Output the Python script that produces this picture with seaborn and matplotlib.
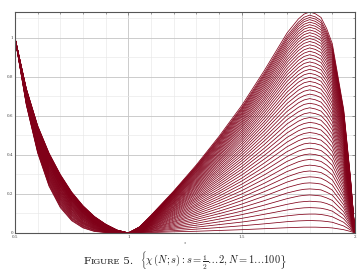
import numpy as np
import pandas as pd
import seaborn as sns
import matplotlib
matplotlib.use("Agg")
import matplotlib.pyplot as plt
from matplotlib.ticker import MultipleLocator

# s positions at which the traced curves were read
s_left = [0.55, 0.6, 0.65, 0.7, 0.75, 0.8, 0.85, 0.9, 0.95]
s_right = [1.05, 1.1, 1.2, 1.3, 1.4, 1.5, 1.6, 1.7, 1.75, 1.8, 1.85, 1.9,
           1.95, 1.98]
s_peak = [1.775, 1.825, 1.875]
# shared end values: chi = 1 at s = 1/2, chi = 0 at s = 1 and s = 2
s_fixed = [0.5, 1.0, 2.0]
chi_fixed = [1.0, 0.0, 0.0]

# traced curves (every second one of N = 1 ... 100)
curve_N = [1, 3, 5, 7, 9, 11, 13, 15, 17, 19, 21, 23, 25, 27, 29, 31, 33, 35,
           37, 39, 41, 43, 45, 47, 49, 51, 53, 55, 57, 59, 61, 63, 65, 67, 69,
           71, 73, 75, 77, 79, 81, 83, 85, 87, 89, 91, 93, 95, 97, 100]

chi_left = [  # s = 0.55 ... 0.95
    [0.656, 0.410, 0.240, 0.130, 0.063, 0.026, 0.008, 0.002, 0.000],
    [0.659, 0.414, 0.245, 0.135, 0.067, 0.029, 0.010, 0.003, 0.001],
    [0.661, 0.419, 0.250, 0.140, 0.072, 0.033, 0.013, 0.004, 0.001],
    [0.664, 0.423, 0.256, 0.146, 0.076, 0.036, 0.015, 0.006, 0.002],
    [0.666, 0.427, 0.260, 0.150, 0.080, 0.039, 0.017, 0.007, 0.002],
    [0.669, 0.431, 0.265, 0.155, 0.085, 0.043, 0.020, 0.008, 0.002],
    [0.671, 0.435, 0.270, 0.160, 0.089, 0.046, 0.022, 0.009, 0.003],
    [0.673, 0.439, 0.275, 0.165, 0.093, 0.049, 0.024, 0.011, 0.003],
    [0.676, 0.443, 0.280, 0.170, 0.097, 0.052, 0.026, 0.012, 0.004],
    [0.678, 0.447, 0.284, 0.174, 0.101, 0.055, 0.028, 0.013, 0.004],
    [0.680, 0.450, 0.289, 0.179, 0.105, 0.058, 0.030, 0.014, 0.004],
    [0.682, 0.454, 0.293, 0.183, 0.109, 0.062, 0.032, 0.015, 0.005],
    [0.684, 0.457, 0.298, 0.188, 0.112, 0.064, 0.034, 0.016, 0.005],
    [0.687, 0.461, 0.302, 0.192, 0.117, 0.068, 0.036, 0.018, 0.006],
    [0.689, 0.464, 0.306, 0.196, 0.120, 0.070, 0.038, 0.019, 0.006],
    [0.691, 0.468, 0.311, 0.201, 0.124, 0.073, 0.040, 0.020, 0.006],
    [0.693, 0.471, 0.314, 0.204, 0.127, 0.076, 0.042, 0.021, 0.007],
    [0.695, 0.475, 0.319, 0.209, 0.131, 0.079, 0.044, 0.022, 0.007],
    [0.697, 0.478, 0.322, 0.212, 0.134, 0.081, 0.045, 0.023, 0.007],
    [0.699, 0.481, 0.327, 0.217, 0.138, 0.084, 0.047, 0.024, 0.008],
    [0.701, 0.484, 0.330, 0.220, 0.141, 0.086, 0.049, 0.025, 0.008],
    [0.703, 0.488, 0.334, 0.224, 0.144, 0.089, 0.051, 0.026, 0.008],
    [0.704, 0.490, 0.337, 0.227, 0.147, 0.091, 0.052, 0.026, 0.009],
    [0.706, 0.494, 0.342, 0.232, 0.151, 0.094, 0.054, 0.028, 0.009],
    [0.708, 0.496, 0.345, 0.235, 0.153, 0.096, 0.055, 0.028, 0.009],
    [0.710, 0.499, 0.349, 0.239, 0.157, 0.099, 0.057, 0.029, 0.010],
    [0.711, 0.502, 0.351, 0.241, 0.159, 0.101, 0.058, 0.030, 0.010],
    [0.713, 0.505, 0.355, 0.245, 0.163, 0.103, 0.060, 0.031, 0.010],
    [0.714, 0.507, 0.358, 0.248, 0.165, 0.105, 0.061, 0.032, 0.010],
    [0.716, 0.510, 0.362, 0.252, 0.168, 0.107, 0.063, 0.033, 0.011],
    [0.717, 0.512, 0.364, 0.254, 0.170, 0.109, 0.064, 0.033, 0.011],
    [0.719, 0.515, 0.368, 0.258, 0.173, 0.112, 0.066, 0.034, 0.011],
    [0.720, 0.517, 0.370, 0.260, 0.175, 0.113, 0.067, 0.035, 0.012],
    [0.722, 0.520, 0.373, 0.263, 0.178, 0.115, 0.069, 0.036, 0.012],
    [0.723, 0.522, 0.375, 0.265, 0.180, 0.117, 0.069, 0.036, 0.012],
    [0.725, 0.524, 0.379, 0.269, 0.183, 0.119, 0.071, 0.037, 0.012],
    [0.726, 0.526, 0.381, 0.271, 0.185, 0.120, 0.072, 0.038, 0.012],
    [0.727, 0.529, 0.384, 0.274, 0.188, 0.123, 0.073, 0.038, 0.013],
    [0.728, 0.530, 0.386, 0.276, 0.189, 0.124, 0.074, 0.039, 0.013],
    [0.730, 0.533, 0.389, 0.279, 0.192, 0.126, 0.076, 0.040, 0.013],
    [0.730, 0.534, 0.390, 0.280, 0.193, 0.127, 0.076, 0.040, 0.013],
    [0.732, 0.537, 0.394, 0.284, 0.196, 0.129, 0.078, 0.041, 0.014],
    [0.733, 0.538, 0.395, 0.285, 0.197, 0.130, 0.078, 0.041, 0.014],
    [0.734, 0.540, 0.398, 0.288, 0.200, 0.132, 0.080, 0.042, 0.014],
    [0.735, 0.542, 0.400, 0.290, 0.201, 0.133, 0.080, 0.043, 0.014],
    [0.736, 0.543, 0.402, 0.292, 0.203, 0.135, 0.081, 0.043, 0.014],
    [0.737, 0.545, 0.404, 0.294, 0.205, 0.136, 0.082, 0.044, 0.014],
    [0.738, 0.547, 0.406, 0.296, 0.206, 0.137, 0.083, 0.044, 0.015],
    [0.739, 0.548, 0.408, 0.298, 0.208, 0.138, 0.084, 0.044, 0.015],
    [0.740, 0.550, 0.410, 0.300, 0.210, 0.140, 0.085, 0.045, 0.015],
]

chi_right = [  # s = 1.05 ... 1.98
    [0.001, 0.002, 0.006, 0.009, 0.013, 0.017, 0.022, 0.027, 0.029, 0.030, 0.029, 0.026, 0.017, 0.008],
    [0.002, 0.005, 0.012, 0.020, 0.028, 0.037, 0.047, 0.058, 0.062, 0.064, 0.062, 0.055, 0.036, 0.016],
    [0.003, 0.008, 0.019, 0.030, 0.043, 0.056, 0.072, 0.088, 0.094, 0.097, 0.095, 0.083, 0.055, 0.024],
    [0.004, 0.010, 0.025, 0.040, 0.057, 0.075, 0.096, 0.118, 0.126, 0.130, 0.127, 0.112, 0.073, 0.033],
    [0.005, 0.013, 0.031, 0.050, 0.071, 0.094, 0.120, 0.147, 0.158, 0.163, 0.159, 0.139, 0.091, 0.041],
    [0.005, 0.016, 0.037, 0.060, 0.085, 0.112, 0.143, 0.176, 0.189, 0.195, 0.190, 0.167, 0.109, 0.049],
    [0.006, 0.018, 0.043, 0.070, 0.099, 0.130, 0.166, 0.205, 0.219, 0.226, 0.221, 0.194, 0.127, 0.057],
    [0.007, 0.021, 0.049, 0.079, 0.112, 0.148, 0.189, 0.233, 0.249, 0.257, 0.251, 0.220, 0.144, 0.064],
    [0.008, 0.023, 0.055, 0.089, 0.126, 0.166, 0.212, 0.261, 0.279, 0.288, 0.281, 0.246, 0.161, 0.072],
    [0.009, 0.025, 0.060, 0.098, 0.139, 0.183, 0.234, 0.288, 0.308, 0.318, 0.310, 0.272, 0.178, 0.080],
    [0.010, 0.028, 0.066, 0.107, 0.152, 0.200, 0.255, 0.315, 0.336, 0.348, 0.339, 0.298, 0.195, 0.087],
    [0.011, 0.030, 0.072, 0.116, 0.165, 0.217, 0.277, 0.341, 0.365, 0.377, 0.367, 0.322, 0.211, 0.094],
    [0.011, 0.032, 0.077, 0.125, 0.177, 0.234, 0.298, 0.367, 0.392, 0.405, 0.395, 0.347, 0.227, 0.101],
    [0.012, 0.035, 0.082, 0.134, 0.189, 0.250, 0.319, 0.392, 0.420, 0.434, 0.423, 0.371, 0.243, 0.108],
    [0.013, 0.037, 0.088, 0.142, 0.202, 0.266, 0.339, 0.417, 0.446, 0.461, 0.450, 0.395, 0.258, 0.115],
    [0.014, 0.039, 0.093, 0.150, 0.213, 0.281, 0.359, 0.442, 0.473, 0.488, 0.476, 0.418, 0.274, 0.122],
    [0.014, 0.041, 0.098, 0.159, 0.225, 0.297, 0.379, 0.466, 0.499, 0.515, 0.502, 0.441, 0.288, 0.129],
    [0.015, 0.043, 0.103, 0.167, 0.237, 0.312, 0.398, 0.490, 0.524, 0.541, 0.528, 0.463, 0.303, 0.135],
    [0.016, 0.045, 0.108, 0.175, 0.248, 0.327, 0.417, 0.513, 0.549, 0.567, 0.553, 0.485, 0.318, 0.142],
    [0.017, 0.047, 0.113, 0.182, 0.259, 0.341, 0.435, 0.536, 0.573, 0.592, 0.578, 0.507, 0.332, 0.148],
    [0.017, 0.049, 0.117, 0.190, 0.270, 0.356, 0.454, 0.559, 0.597, 0.617, 0.602, 0.528, 0.346, 0.154],
    [0.018, 0.051, 0.122, 0.198, 0.280, 0.370, 0.472, 0.581, 0.621, 0.642, 0.625, 0.549, 0.359, 0.160],
    [0.019, 0.053, 0.126, 0.205, 0.291, 0.383, 0.489, 0.602, 0.644, 0.665, 0.649, 0.570, 0.373, 0.166],
    [0.019, 0.055, 0.131, 0.212, 0.301, 0.397, 0.506, 0.623, 0.667, 0.689, 0.671, 0.590, 0.386, 0.172],
    [0.020, 0.057, 0.135, 0.219, 0.311, 0.410, 0.523, 0.644, 0.689, 0.712, 0.694, 0.609, 0.398, 0.178],
    [0.021, 0.059, 0.139, 0.226, 0.321, 0.423, 0.539, 0.664, 0.711, 0.734, 0.716, 0.628, 0.411, 0.184],
    [0.021, 0.060, 0.144, 0.233, 0.330, 0.435, 0.556, 0.684, 0.732, 0.756, 0.737, 0.647, 0.423, 0.189],
    [0.022, 0.062, 0.148, 0.239, 0.340, 0.448, 0.571, 0.704, 0.753, 0.777, 0.758, 0.665, 0.435, 0.194],
    [0.022, 0.064, 0.152, 0.246, 0.349, 0.460, 0.587, 0.722, 0.773, 0.798, 0.778, 0.683, 0.447, 0.200],
    [0.023, 0.066, 0.156, 0.252, 0.358, 0.472, 0.602, 0.741, 0.793, 0.819, 0.798, 0.701, 0.459, 0.205],
    [0.023, 0.067, 0.159, 0.258, 0.367, 0.483, 0.617, 0.759, 0.812, 0.839, 0.818, 0.718, 0.470, 0.210],
    [0.024, 0.069, 0.163, 0.264, 0.375, 0.494, 0.631, 0.777, 0.831, 0.858, 0.837, 0.735, 0.481, 0.215],
    [0.025, 0.070, 0.167, 0.270, 0.383, 0.505, 0.645, 0.794, 0.849, 0.877, 0.855, 0.751, 0.491, 0.219],
    [0.025, 0.072, 0.170, 0.276, 0.392, 0.516, 0.658, 0.811, 0.867, 0.896, 0.874, 0.767, 0.502, 0.224],
    [0.026, 0.073, 0.174, 0.282, 0.399, 0.526, 0.672, 0.827, 0.885, 0.914, 0.891, 0.782, 0.512, 0.229],
    [0.026, 0.075, 0.177, 0.287, 0.407, 0.537, 0.685, 0.843, 0.902, 0.932, 0.908, 0.797, 0.522, 0.233],
    [0.027, 0.076, 0.180, 0.292, 0.415, 0.546, 0.697, 0.859, 0.918, 0.949, 0.925, 0.812, 0.531, 0.237],
    [0.027, 0.077, 0.183, 0.297, 0.422, 0.556, 0.710, 0.874, 0.935, 0.965, 0.941, 0.826, 0.541, 0.241],
    [0.027, 0.079, 0.186, 0.302, 0.429, 0.565, 0.721, 0.888, 0.950, 0.982, 0.957, 0.840, 0.550, 0.245],
    [0.028, 0.080, 0.189, 0.307, 0.436, 0.574, 0.733, 0.902, 0.965, 0.997, 0.972, 0.854, 0.558, 0.249],
    [0.028, 0.081, 0.192, 0.312, 0.442, 0.583, 0.744, 0.916, 0.980, 1.012, 0.987, 0.867, 0.567, 0.253],
    [0.029, 0.082, 0.195, 0.316, 0.449, 0.592, 0.755, 0.930, 0.994, 1.027, 1.001, 0.879, 0.575, 0.257],
    [0.029, 0.083, 0.198, 0.321, 0.455, 0.600, 0.765, 0.942, 1.008, 1.041, 1.015, 0.891, 0.583, 0.260],
    [0.030, 0.084, 0.200, 0.325, 0.461, 0.608, 0.775, 0.955, 1.021, 1.055, 1.029, 0.903, 0.591, 0.264],
    [0.030, 0.085, 0.203, 0.329, 0.467, 0.615, 0.785, 0.967, 1.034, 1.068, 1.042, 0.915, 0.598, 0.267],
    [0.030, 0.086, 0.205, 0.333, 0.472, 0.623, 0.795, 0.978, 1.047, 1.081, 1.054, 0.926, 0.605, 0.270],
    [0.031, 0.087, 0.208, 0.337, 0.478, 0.630, 0.804, 0.990, 1.059, 1.094, 1.066, 0.936, 0.612, 0.273],
    [0.031, 0.088, 0.210, 0.340, 0.483, 0.637, 0.812, 1.000, 1.070, 1.105, 1.078, 0.946, 0.619, 0.276],
    [0.031, 0.089, 0.212, 0.344, 0.488, 0.643, 0.821, 1.011, 1.081, 1.117, 1.089, 0.956, 0.625, 0.279],
    [0.032, 0.091, 0.215, 0.349, 0.495, 0.653, 0.833, 1.025, 1.097, 1.133, 1.105, 0.970, 0.634, 0.283],
]

chi_peak = [  # s = 1.775, 1.825, 1.875
    [0.030, 0.030, 0.028], [0.063, 0.063, 0.059], [0.096, 0.097, 0.090],
    [0.129, 0.129, 0.121], [0.161, 0.161, 0.151], [0.193, 0.193, 0.180],
    [0.224, 0.224, 0.209], [0.255, 0.255, 0.238], [0.285, 0.286, 0.266],
    [0.315, 0.315, 0.294], [0.344, 0.345, 0.322], [0.373, 0.374, 0.348],
    [0.401, 0.402, 0.375], [0.429, 0.430, 0.401], [0.457, 0.458, 0.427],
    [0.484, 0.484, 0.452], [0.510, 0.511, 0.476], [0.536, 0.537, 0.501],
    [0.561, 0.563, 0.525], [0.586, 0.588, 0.548], [0.611, 0.612, 0.571],
    [0.635, 0.636, 0.593], [0.659, 0.660, 0.615], [0.682, 0.683, 0.637],
    [0.704, 0.706, 0.658], [0.727, 0.728, 0.679], [0.748, 0.750, 0.699],
    [0.770, 0.771, 0.719], [0.790, 0.792, 0.738], [0.811, 0.812, 0.757],
    [0.830, 0.832, 0.776], [0.850, 0.851, 0.794], [0.869, 0.870, 0.812],
    [0.887, 0.889, 0.829], [0.905, 0.907, 0.845], [0.922, 0.924, 0.862],
    [0.939, 0.941, 0.878], [0.956, 0.958, 0.893], [0.972, 0.974, 0.908],
    [0.987, 0.989, 0.922], [1.002, 1.004, 0.936], [1.017, 1.019, 0.950],
    [1.031, 1.033, 0.963], [1.045, 1.047, 0.976], [1.058, 1.060, 0.988],
    [1.070, 1.073, 1.000], [1.083, 1.085, 1.011], [1.094, 1.097, 1.022],
    [1.106, 1.108, 1.033], [1.122, 1.124, 1.048],
]

x_ticks = [0.5, 1, 1.5, 2]
x_tick_labels = ["0.5", "1", "1.5", "2"]
y_ticks = [0, 0.2, 0.4, 0.6, 0.8, 1]
y_tick_labels = ["0", "0.2", "0.4", "0.6", "0.8", "1"]

rows = []
for n, left, right, peak in zip(curve_N, chi_left, chi_right, chi_peak):
    pairs = (list(zip(s_fixed, chi_fixed)) + list(zip(s_left, left))
             + list(zip(s_right, right)) + list(zip(s_peak, peak)))
    for s, v in pairs:
        rows.append({"N": n, "s": s, "chi": v})
df = pd.DataFrame(rows).sort_values(["N", "s"])

sns.set_style("white")
plt.rcParams["mathtext.fontset"] = "cm"
plt.rcParams["font.family"] = ["DejaVu Serif", "DejaVu Sans"]

fig = plt.figure(figsize=(3.6, 2.76), dpi=100)
ax = fig.add_axes([15 / 360, 1 - 233 / 276, 340 / 360, 221 / 276])

sns.lineplot(data=df, x="s", y="chi", units="N", estimator=None, sort=True,
             color="#800018", linewidth=0.55, ax=ax, legend=False)

ax.set_xlim(0.5, 2)
ax.set_ylim(0, 1.133)
ax.set_xticks(x_ticks)
ax.set_xticklabels(x_tick_labels)
ax.set_yticks(y_ticks)
ax.set_yticklabels(y_tick_labels)
ax.xaxis.set_minor_locator(MultipleLocator(0.1))
ax.yaxis.set_minor_locator(MultipleLocator(0.1))
ax.grid(which="major", color="#c4c4c4", linewidth=0.6)
ax.grid(which="minor", color="#e8e8e8", linewidth=0.45)
ax.set_axisbelow(True)
ax.tick_params(which="both", direction="in", labelsize=3, length=2,
               width=0.4, color="#555555", labelcolor="#444444", pad=1.5,
               top=True, right=True)
ax.tick_params(which="minor", length=1.2)
for sp in ax.spines.values():
    sp.set_color("#555555")
    sp.set_linewidth(0.8)
ax.set_xlabel("$s$", fontsize=3.5, labelpad=1, color="#444444")
ax.set_ylabel("")

# caption with small-caps "Figure"
pieces = [("F", 7.5), ("IGURE", 6.0), (" 5.  ", 7.5),
          (r"$\left\{\chi\,(N;s) : s=\frac{1}{2}\ldots 2, N=1\ldots 100\right\}$", 7.5)]
renderer = fig.canvas.get_renderer()
texts = []
for txt, size in pieces:
    t = fig.text(0, 0.042, txt, fontsize=size, ha="left", va="baseline",
                 color="#222222")
    texts.append(t)
widths = [t.get_window_extent(renderer).width for t in texts]
x0 = 185 - sum(widths) / 2
for t, w in zip(texts, widths):
    t.set_x(x0 / 360)
    x0 += w

fig.savefig("out.png", dpi=100)
